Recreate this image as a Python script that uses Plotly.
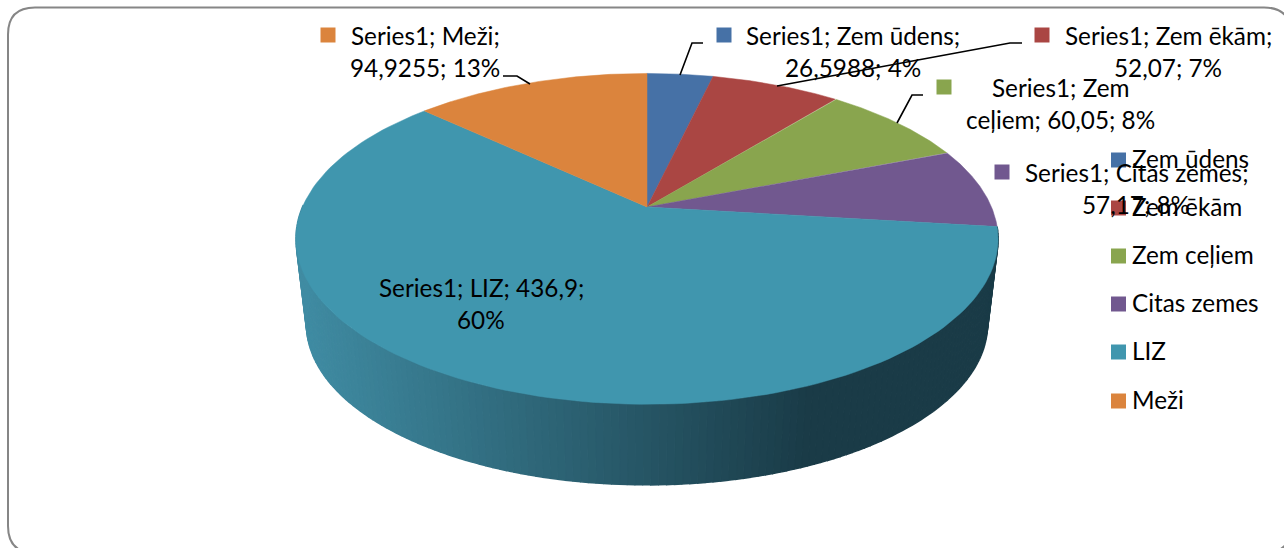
import numpy as np
import plotly.graph_objects as go

# data
categories = ["Zem ūdens", "Zem ēkām", "Zem ceļiem", "Citas zemes", "LIZ", "Meži"]
values = [26.5988, 52.07, 60.05, 57.17, 436.9, 94.9255]
value_labels = ["26,5988", "52,07", "60,05", "57,17", "436,9", "94,9255"]
percent_labels = ["4%", "7%", "8%", "8%", "60%", "13%"]
series_name = "Series1"
colors = ["#4671A6", "#AA4643", "#89A54E", "#71588F", "#4096AE", "#DB843D"]

# pie projection (pixel space of the page)
W, H = 1284, 548
CX, CY, A, B, K = 647, 207, 159.3, 344.5, 0.1926
DEPTH_CY, DEPTH_SCALE = 293.5, 0.97
FONT = "Lato"
FS = 24.3


def top(theta):
    w = 1 + K * np.cos(theta)
    return CX + B * np.sin(theta) / w, CY - A * np.cos(theta) / w


def bottom(theta):
    x, y = top(theta)
    return CX + (x - CX) * DEPTH_SCALE, DEPTH_CY + (y - CY) * DEPTH_SCALE


def wall_color(x):
    t = min(max((x - 305) / (810 - 305), 0), 1)
    c0, c1 = np.array([64, 140, 163]), np.array([26, 59, 71])
    r, g, b = (c0 + (c1 - c0) * t).astype(int)
    return f"rgb({r},{g},{b})"


fig = go.Figure()

edges = np.concatenate([[0], np.cumsum(values)]) / sum(values) * 2 * np.pi

# side wall of the large slice, drawn as overlapping gradient strips
wall = np.linspace(edges[4], edges[5], 200)
for t0, t1 in zip(wall[:-1], wall[1:]):
    if np.cos((t0 + t1) / 2) > 0.02:
        continue
    xa, ya = top(np.array([t0, t1]))
    xb, yb = bottom(np.array([t1, t0]))
    col = wall_color((xa.mean() + xb.mean()) / 2)
    fig.add_trace(go.Scatter(
        x=list(xa) + list(xb), y=list(ya) + list(yb), mode="lines", fill="toself",
        fillcolor=col, line=dict(color=col, width=1.5), hoverinfo="skip", showlegend=False))

# top faces
for i, name in enumerate(categories):
    th = np.linspace(edges[i], edges[i + 1], 140)
    xs, ys = top(th)
    fig.add_trace(go.Scatter(
        x=[CX] + list(xs) + [CX], y=[CY] + list(ys) + [CY], mode="lines", fill="toself",
        fillcolor=colors[i], line=dict(color=colors[i], width=0.5), name=name, showlegend=False))

# layout positions
label_pos = [(853, 35), (1168, 35), (1060, 87), (1136, 172), (481, 287), (425, 35)]
line_gap = 32
label_lines = [
    (f"{series_name}; {categories[0]};", f"{value_labels[0]}; {percent_labels[0]}"),
    (f"{series_name}; {categories[1]};", f"{value_labels[1]}; {percent_labels[1]}"),
    (f"{series_name}; Zem", f"ceļiem; {value_labels[2]}; {percent_labels[2]}"),
    (f"{series_name}; {categories[3]};", f"{value_labels[3]}; {percent_labels[3]}"),
    (f"{series_name}; {categories[4]}; {value_labels[4]};", percent_labels[4]),
    (f"{series_name}; {categories[5]};", f"{value_labels[5]}; {percent_labels[5]}"),
]
label_keys = [(724, 35), (1042, 35), (944, 87), (1002, 172), (358, 287), (328, 35)]
legend_x, legend_text_x = 1118.5, 1130
legend_ys = [160, 208, 256, 304, 352, 401]
legend_text_dy = -2

annotations = []
for (cx, cy), lines in zip(label_pos, label_lines):
    for j, line in enumerate(lines):
        annotations.append(dict(x=cx, y=cy + j * line_gap, text=line, showarrow=False,
                                xanchor="center", yanchor="middle"))
for name, ly in zip(categories, legend_ys):
    annotations.append(dict(x=legend_text_x, y=ly + legend_text_dy, text=name, showarrow=False,
                            xanchor="left", yanchor="middle"))

# keys
fig.add_trace(go.Scatter(
    x=[p[0] for p in label_keys] + [legend_x] * 6,
    y=[p[1] for p in label_keys] + legend_ys,
    mode="markers",
    marker=dict(symbol="square", size=15, color=colors + colors, line=dict(width=0)),
    hoverinfo="skip", showlegend=False))

leaders = [
    [(703, 43), (692, 43), (680, 75)],
    [(1022, 43), (1010, 43), (777, 86)],
    [(923, 95), (912, 95), (897, 123)],
    [(503, 76), (517, 76), (530, 84)],
]
shapes = [dict(type="path", layer="above", xref="x", yref="y",
               path="M" + " L".join(f"{x},{y}" for x, y in pts),
               line=dict(color="#000000", width=1.6)) for pts in leaders]

# rounded frame, runs past the right and bottom page edges
L, T, R, Bt, r = 8, 7.5, 1291, 553, 27
shapes.append(dict(type="path", layer="below", xref="x", yref="y",
                   path=f"M{L+r},{T} L{R-r},{T} Q{R},{T} {R},{T+r} L{R},{Bt-r} Q{R},{Bt} {R-r},{Bt} "
                        f"L{L+r},{Bt} Q{L},{Bt} {L},{Bt-r} L{L},{T+r} Q{L},{T} {L+r},{T} Z",
                   line=dict(color="#868686", width=2), fillcolor="#FFFFFF"))

fig.update_layout(
    width=W, height=H, margin=dict(l=0, r=0, t=0, b=0, autoexpand=False),
    paper_bgcolor="#FFFFFF", plot_bgcolor="#FFFFFF", showlegend=False,
    font=dict(family=FONT, size=FS, color="#000000"),
    xaxis=dict(range=[0, W], visible=False, fixedrange=True),
    yaxis=dict(range=[H, 0], visible=False, fixedrange=True),
    annotations=annotations, shapes=shapes,
)
fig.write_html("out.html", config={"displayModeBar": False},
               post_script="document.body.style.margin='0';document.body.style.overflow='hidden';")
